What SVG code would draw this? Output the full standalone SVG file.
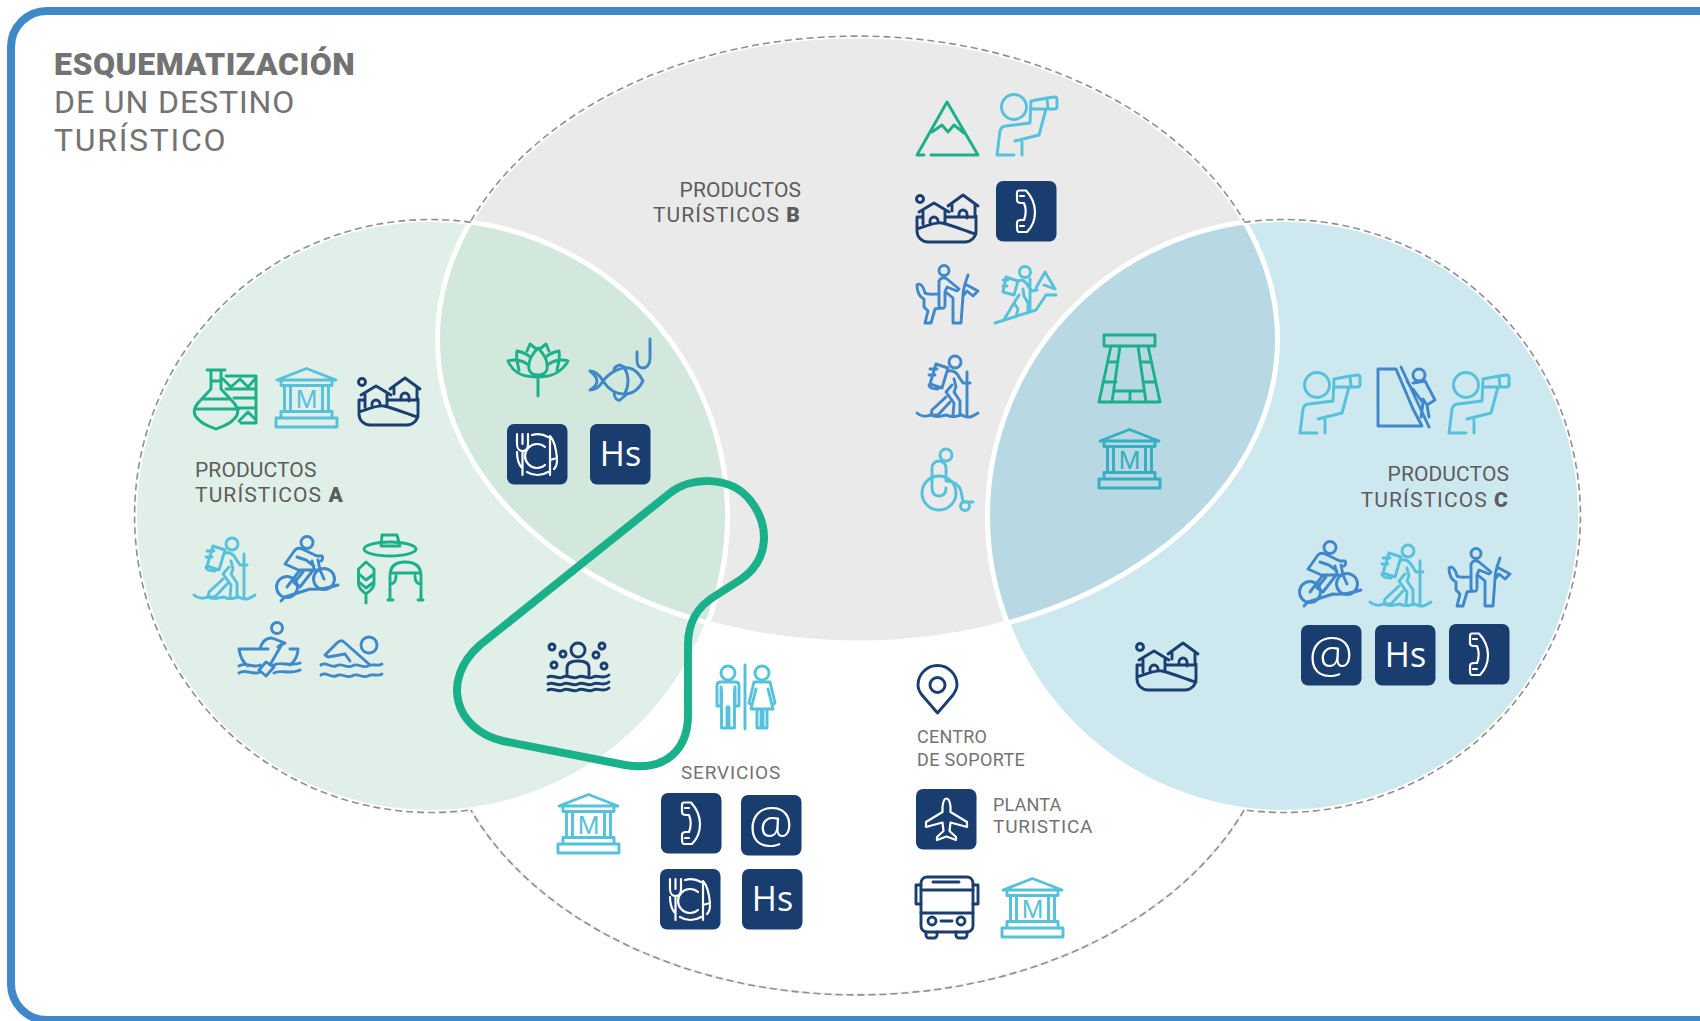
<svg xmlns="http://www.w3.org/2000/svg" width="1700" height="1021" viewBox="0 0 1700 1021">
<style>
text{font-family:"Roboto","Liberation Sans",sans-serif}
.title{font-size:32px;fill:#737373}
.lab{font-size:21px;fill:#5c5c5c}
.lab2{font-size:19px;fill:#737373}
.hs{font-family:"Open Sans","Liberation Sans",sans-serif;font-size:34px;fill:#fff;text-anchor:middle}
.at{font-family:"Open Sans","Liberation Sans",sans-serif;font-size:50px;font-weight:300;fill:#fff;text-anchor:middle}
.m{font-family:"Liberation Sans",sans-serif;font-size:26px;fill:currentColor;text-anchor:middle}
.i{fill:none;stroke:currentColor;stroke-width:2.9;stroke-linecap:round;stroke-linejoin:round}
.t{fill:none;stroke:#fff;stroke-width:2.2;stroke-linecap:round;stroke-linejoin:round}
.g{color:#1bb089}.lb{color:#55c1db}.b{color:#3f88c9}.n{color:#1a3e70}.tl{color:#35aec0}
.dash{fill:none;stroke:#8f8f8f;stroke-width:1.6;stroke-dasharray:7 4}
.faint{fill:none;stroke:#f3f3ee;stroke-width:3}
.wh{fill:none;stroke:#fff;stroke-width:5}
</style>
<defs>
<clipPath id="cpA"><circle cx="431" cy="516" r="296.5"/></clipPath>
<clipPath id="cpC"><circle cx="1284" cy="516" r="296.5"/></clipPath>
<rect id="tile" width="60.5" height="60.5" rx="7" fill="#1a3d70"/>
<g id="museum" class="i"><path d="M2 13 31.5 1.5 61 13ZM6 13H57V18.5H6ZM9.5 18.5H15.5V44.5H9.5ZM47.5 18.5H53.5V44.5H47.5ZM6 44.5H57V51H6ZM1 51H62V60H1Z"/></g>
<g id="village" class="i"><circle cx="5" cy="5" r="3.5"/><path d="M2 23V37A11 11 0 0 0 13 48H50A11 11 0 0 0 61 37V22M2 35C10 33 18 28 27 29C40 32 50 37 61 40M2 23H8M4 18 19 9 34 18M8 17V30M30 17V28M15 30V27A4 4 0 0 1 23 27V29M33 12 48 1 63 12M37 11V17M60 11V23M30 23H60M44 23V20A4 4 0 0 1 52 20V24"/></g>
<g id="binoc" class="i"><circle cx="18" cy="13" r="12.5"/><path d="M1 61 4 37C5 33 7 32 10 32L34 29 35 7M19 47 43 41 50 15M1 61H18M26 47V61M35 7 51 4 52 15 35 15M51 4 59 3C61 3 61 4 61 6V13C61 15 60 15 58 15L52 15"/></g>
<g id="hiker" class="i"><circle cx="39" cy="7" r="6"/><path d="M20 9 32 13 26 33 14 29ZM14 14H21M13 20H19M13 30C13 33 16 34 22 34M32 16C38 15 41 18 43 22L47 28H54M38 24 40 32 38 37 44 46V60M36 30 30 37 38 48 37 60M30 42 16 55 15 60H22L34 47M51 17V61M1 58C8 64 12 60 15 60C22 64 26 60 31 60C37 64 42 60 46 60C52 64 56 62 62 58"/></g>
<g id="cyclist" class="i"><circle cx="31" cy="6.5" r="6"/><circle cx="11" cy="51" r="10.5"/><circle cx="48" cy="43" r="10.5"/><path d="M5 65 9 61 34 53C42 54 52 52 62 49M11 51 24 34H44L48 43M24 51 38 33 36 25M9 28 19 14C21 12 24 12 26 13L41 20H46C47 21 47 24 45 25M9 28 27 36 18 47 23 50M21 21 30 24 38 30M44 34 42 24"/></g>
<g id="rider" class="i"><circle cx="28" cy="5.500" r="5"/><path d="M1 20C4 17 8 22 9 28C12 30 16 29 23 29M1 20C1 27 4 32 8 34V42L12 46 9 58H15L19 44 24 43M23 16V40C23 44 29 45 29 40V27L31 22 41 26 43 24 31 14C29 12 25 12 23 16ZM31 28 37 33V58H45L47 31C47 28 47 25 49 19L62 26 57 31 51 26 47 31M49 19 52 10"/></g>
<g id="climbhiker" class="i"><circle cx="31" cy="7" r="5.500"/><path d="M1 58 42 45 52 30H62M42 23 51 7 61 24 50 20M12 12 24 16 20 30 9 27ZM9 15H14M9 21H13M24 16C28 14 32 16 34 21L38 26 43 25M29 24 30 31 34 38V48M25 30 20 38 11 53M20 38 24 44 22 52M36 14V46"/></g>
<g id="mountain" class="i"><path d="M8 54H1L31 1 62 54H15M16 31 26 24 32 31 38 24 48 32"/></g>
<g id="phone"><path class="t" d="M23 9.500H30C36 16 39 24 39 31C39 39 36 46 31 51H23C21 51 21 48 21 46V42C21 40 23 39 25 39H28C30 34 30 27 28 22H25C23 22 21 21 21 19V12C21 10 22 9.500 23 9.500ZM28 15 24 15M28 45H24"/></g>
<g id="plate"><path class="t" d="M10 10V20C10 25 13 27 15.500 27C18 27 21 25 21 20V10M15.500 10V20M15.500 27V51M25 11A20 20 0 0 1 41 13M20 48A20 20 0 0 0 41 48M10 28C10 35 12 40 14 43M38 23A12 12 0 1 0 38 41M43 51V12C47 16 49 24 50 34L43 36M50 36C50 40 49 43 47 45"/></g>
<g id="plane"><path class="t" d="M30.500 9.500C33 9.500 34 13 34.500 18V23L51 33V38L34.500 33.500 33.500 42 40 48V51L30.500 47.500 21 51V48L27.500 42 26.500 33.500 10 38V33L26.500 23V18C27 13 28 9.500 30.500 9.500Z"/></g>
<g id="vase" class="i"><path d="M14 1H32M18 1V20L5 34C0 40 0 46 5 50C10 56 18 58 23 60C28 58 36 56 41 50C46 46 46 40 41 34L28 20V1M2 40H46M9 30H37M33 7H63V54H48M33 20H63M41 29H63M46 39H63M30 10 38 18 47 10 55 18 62 10M46 52 55 43 62 50M18 12H28"/></g>
<g id="hatwheat" class="i"><ellipse cx="32" cy="15" rx="26" ry="7"/><path d="M23 12 24 1H39L42 12M23 12H41M.5 35 8 28 16 35V50C16 55 10 58 8 60C6 58 .5 55 .5 50ZM1 40 8 46 16 40M1 48 8 54 16 48M8 60V69M32 66V42C32 30 40 28 47 28C54 28 63 30 63 42V66M33 39H62M32 50C36 50 38 47 38 42M63 50C59 50 57 47 57 42M30 66H35M60 66H65"/></g>
<g id="rower" class="i"><circle cx="39" cy="5" r="5.500"/><path d="M22 26C24 18 28 15 34 15L47 20 40 24 44 21 32 42M1 26H30M52 26H60C60 34 57 38 52 42M1 26C2 34 6 40 10 43M21 47 28 39 36 44 28 53ZM1 43C8 38 14 46 22 42M36 42C42 38 52 44 62 40M1 50C8 45 14 53 22 49M36 50C42 46 52 52 62 47"/></g>
<g id="swimmer" class="i"><circle cx="49" cy="8" r="8"/><path d="M5 18 17 6C20 3 22 3 24 5L50 28M5 18 8 20 25 17 30 24M1 28C6 24 10 31 16 29C22 25 26 32 32 29C38 25 42 32 48 29C52 26 58 30 62 27M1 38C6 34 10 41 16 39C22 35 26 42 32 39C38 35 42 42 48 39C52 36 58 40 62 37"/></g>
<g id="lotus" class="i"><path d="M31 5C24 12 21 20 22 26C23 31 27 32 31 32C35 32 39 31 40 26C41 20 38 12 31 5ZM1 18C8 16 14 17 20 21M1 18C5 27 12 34 30 34C48 34 56 27 61 18C54 16 48 17 42 21M10 8C15 9 20 11 23 14M10 8C9 14 10 20 12 27M52 8C47 9 42 11 39 14M52 8C53 14 52 20 50 27M20 8 23 1 28 5M42 8 39 1 34 5M31 34V53"/></g>
<g id="fish" class="i"><path d="M61 1V21C61 27 57 30 54 30C50 30 48 27 48 22V14M14 43C22 33 32 29 40 30C46 31 51 37 54 43C51 49 46 55 38 56C28 57 20 52 14 43ZM36 31C40 38 40 48 36 55M14 43C10 36 6 33 1 33C6 37 8 40 8 43C8 46 6 49 1 52C6 52 10 50 14 43ZM25 32C25 29 27 28 31 27L38 30M25 54C25 60 28 63 31 62L38 56"/></g>
<g id="spa" class="i"><circle cx="31" cy="8" r="7"/><path d="M20 33V26C20 21 24 19 31 19C38 19 42 21 42 26V33"/><circle cx="5" cy="5" r="3"/><circle cx="16" cy="12" r="3"/><circle cx="7" cy="23" r="3"/><circle cx="55" cy="4" r="3"/><circle cx="49" cy="13" r="3"/><circle cx="57" cy="24" r="3"/><path d="M1 35C6 32 11 38 16 35C21 32 26 38 31 35C36 32 41 38 46 35C51 32 56 38 62 33M1 42C6 39 11 45 16 42C21 39 26 45 31 42C36 39 41 45 46 42C51 39 56 45 62 40M1 48C6 45 11 51 16 48C21 45 26 51 31 48C36 45 41 51 46 48C51 45 56 51 62 46"/></g>
<g id="wc" class="i"><circle cx="12" cy="8" r="7"/><circle cx="46" cy="8" r="7"/><path d="M1 41V20C1 18 3 17 5 17H19C21 17 23 18 23 20V41M1 41H5V22M23 41H19V22M5.500 25V63H11V42H13V63H18.500V25M29 0V64M38 17H54L59 38 56 40 52 24 57 44H35L40 24 36 40 33 38ZM41 44V63H45V44M47 44V63H51V44"/></g>
<g id="ruin" class="i"><path d="M6 1H57V12H6ZM13 12 1 68H62L50 12M22 12 14 68M40 12 48 68M10 28H20M5 48H18M42 28H53M45 48H58M17 57H46M32 57V68"/></g>
<g id="wheel" class="i"><circle cx="25" cy="7" r="6"/><circle cx="18" cy="45" r="17"/><circle cx="44" cy="58" r="4.500"/><path d="M11 40C11 46 14 48 18 48C22 48 25 46 25 40M11 40V20A7 7 0 0 1 25 20V33C33 33 38 37 40 43L42 54H52"/></g>
<g id="rock" class="i"><path d="M1 6V2H19L36 42 45 59H1V6M24 0 52 60M36 16 48 14 58 33 50 38 46 32M36 22 46 36 44 50M50 38 52 50M30 14 36 24"/><circle cx="42" cy="8" r="6"/></g>
<g id="bus" class="i"><rect x="6" y="1" width="52" height="55" rx="6"/><path d="M6 9H1V28H6M58 9H63V28H58M18 6H44M6 14H58M6 37H58M26 45H37M11 56V59A3 3 0 0 0 14 62H19A3 3 0 0 0 22 59V56M41 56V59A3 3 0 0 0 44 62H49A3 3 0 0 0 52 59V56"/><circle cx="17" cy="45" r="4"/><circle cx="46" cy="45" r="4"/></g>
<g id="pin" class="i"><path d="M20.500 48 5 30C1 25 1 20 1 20A19.500 19.500 0 0 1 40 20C40 24 38 27 36 30Z"/><circle cx="20.500" cy="20" r="7.500"/></g>
</defs>
<rect width="1700" height="1021" fill="#fff"/>
<g id="connectors">
<rect x="11" y="11" width="1760" height="1009" rx="36" fill="#fff" stroke="#3f88c9" stroke-width="8"/>
<ellipse cx="857.500" cy="339.500" rx="420" ry="303.500" fill="#eaeaea"/>
<circle cx="431" cy="516" r="296.500" fill="#e1efe9"/>
<circle cx="1284" cy="516" r="296.500" fill="#cde8ef"/>
<g clip-path="url(#cpA)"><ellipse cx="857.500" cy="339.500" rx="420" ry="303.500" fill="#d2e8dd"/></g>
<g clip-path="url(#cpC)"><ellipse cx="857.500" cy="339.500" rx="420" ry="303.500" fill="#b8d9e3"/></g>
<circle class="wh" cx="431" cy="516" r="296.500"/>
<circle class="wh" cx="1284" cy="516" r="296.500"/>
<ellipse class="wh" cx="857.500" cy="339.500" rx="420" ry="303.500"/>
<path class="faint" d="M1244 810.200A420 303.500 0 0 1 471 810.200"/>
<path class="dash" d="M471 222.200A296.500 296.500 0 1 0 471 809.800"/>
<path class="dash" d="M1244 222.200A296.500 296.500 0 1 1 1244 809.800"/>
<path class="dash" d="M471 220.800A420 303.500 0 0 1 1244 220.800"/>
<path class="dash" d="M1244 810.200A420 303.500 0 0 1 471 810.200"/>
<path d="M480 645 670 493C690 477 730 475 750 500C770 525 770 560 740 580L715 596C697 607 688 622 688 645V715C688 750 665 772 625 765L503 741C455 730 440 680 480 645Z" fill="none" stroke="#19b08a" stroke-width="8"/>
</g>
<g id="title">
<text class="title" font-weight="900" x="54" y="75" style="letter-spacing:.5px">ESQUEMATIZACIÓN</text>
<text class="title" x="54" y="113" style="letter-spacing:.9px">DE UN DESTINO</text>
<text class="title" x="54" y="151" style="letter-spacing:1.7px">TURÍSTICO</text>
</g>
<g id="labels">
<text class="lab" x="195" y="477" style="letter-spacing:.1px">PRODUCTOS</text>
<text class="lab" x="195" y="502" style="letter-spacing:1.1px">TURÍSTICOS <tspan font-weight="900">A</tspan></text>
<text class="lab" x="801" y="197" text-anchor="end" style="letter-spacing:.1px">PRODUCTOS</text>
<text class="lab" x="801" y="222" text-anchor="end" style="letter-spacing:1.1px">TURÍSTICOS <tspan font-weight="900">B</tspan></text>
<text class="lab" x="1509" y="481" text-anchor="end" style="letter-spacing:.1px">PRODUCTOS</text>
<text class="lab" x="1509" y="507" text-anchor="end" style="letter-spacing:1.1px">TURÍSTICOS <tspan font-weight="900">C</tspan></text>
<text class="lab2" x="681" y="779" style="letter-spacing:.8px">SERVICIOS</text>
<text class="lab2" x="917" y="743" style="font-size:18px;letter-spacing:.25px">CENTRO</text>
<text class="lab2" x="917" y="766" style="font-size:18px;letter-spacing:.35px">DE SOPORTE</text>
<text class="lab2" x="993" y="811" style="font-size:18px;letter-spacing:.2px">PLANTA</text>
<text class="lab2" x="993" y="833" style="letter-spacing:.8px">TURISTICA</text>
</g>
<g id="node-a" >
<use href="#vase" class="g" x="193" y="369"/>
<g class="lb"><use href="#museum" x="275" y="367"/><text class="m" x="306.500" y="408">M</text></g>
<use href="#village" class="n" x="357" y="377"/>
<use href="#hiker" class="lb" x="193" y="537"/>
<use href="#cyclist" class="b" x="276" y="536"/>
<use href="#hatwheat" class="g" x="358" y="534"/>
<use href="#rower" class="b" x="238" y="623"/>
<use href="#swimmer" class="b" x="320" y="637"/>
</g>
<g id="node-ab">
<use href="#lotus" class="g" x="507" y="343"/>
<use href="#fish" class="b" x="589" y="338"/>
<use href="#tile" x="507" y="424"/><use href="#plate" x="507" y="424"/>
<use href="#tile" x="590" y="424"/><text class="hs" x="620.500" y="466">Hs</text>
</g>
<g id="node-abs"><use href="#spa" class="n" x="547" y="642"/></g>
<g id="node-b">
<use href="#mountain" class="g" x="916" y="101"/>
<use href="#binoc" class="lb" x="996" y="94"/>
<use href="#village" class="n" x="915" y="194"/>
<use href="#tile" x="996" y="181"/><use href="#phone" x="996" y="181"/>
<use href="#rider" class="b" x="916" y="265"/>
<use href="#climbhiker" class="lb" x="994" y="265"/>
<use href="#hiker" class="b" x="916" y="355"/>
<use href="#wheel" class="lb" x="921" y="448"/>
</g>
<g id="node-bc">
<use href="#ruin" class="g" x="1098" y="334"/>
<g class="tl"><use href="#museum" x="1098" y="428"/><text class="m" x="1129.500" y="469">M</text></g>
</g>
<g id="node-c">
<use href="#binoc" class="lb" x="1299" y="372"/>
<use href="#rock" class="b" x="1377" y="367"/>
<use href="#binoc" class="lb" x="1448" y="372"/>
<use href="#cyclist" class="b" x="1299" y="541"/>
<use href="#hiker" class="lb" x="1369" y="544"/>
<use href="#rider" class="b" x="1448" y="548"/>
<use href="#tile" x="1301" y="625"/><text class="at" x="1331" y="673">@</text>
<use href="#tile" x="1375" y="625"/><text class="hs" x="1405.500" y="667">Hs</text>
<use href="#tile" x="1449" y="624"/><use href="#phone" x="1449" y="624"/>
<use href="#village" class="n" x="1135" y="642"/>
</g>
<g id="node-servicios">
<use href="#wc" class="lb" x="716" y="665"/>
<g class="lb"><use href="#museum" x="557" y="793"/><text class="m" x="588.500" y="834">M</text></g>
<use href="#tile" x="661" y="793"/><use href="#phone" x="661" y="793"/>
<use href="#tile" x="741" y="795"/><text class="at" x="771" y="843">@</text>
<use href="#tile" x="660" y="869"/><use href="#plate" x="660" y="869"/>
<use href="#tile" x="742" y="869"/><text class="hs" x="772.500" y="911">Hs</text>
</g>
<g id="node-soporte">
<use href="#pin" class="n" x="917" y="665"/>
<use href="#tile" x="916" y="789"/><use href="#plane" x="916" y="789"/>
<use href="#bus" class="n" x="915" y="876"/>
<g class="lb"><use href="#museum" x="1001" y="877"/><text class="m" x="1032.500" y="918">M</text></g>
</g>
</svg>
